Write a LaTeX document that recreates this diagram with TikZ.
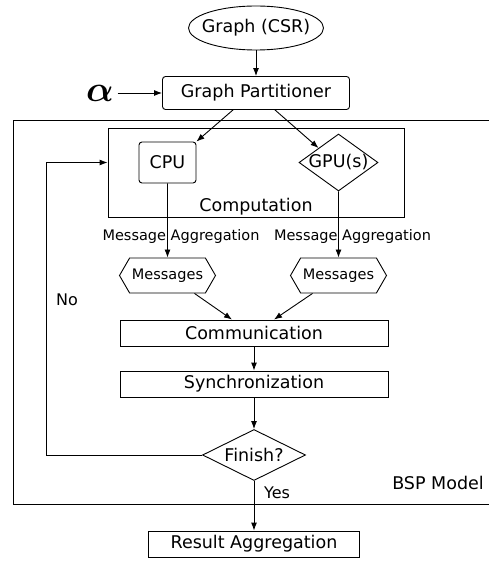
\documentclass[tikz,border=0pt]{standalone}
\usepackage{bm}
\usepackage{fontspec}
\setmainfont{DejaVu Sans}
\usetikzlibrary{positioning, arrows.meta, shapes.geometric, shapes.symbols}

\begin{document}
\begin{tikzpicture}[
        x=1pt, y=-1pt,
        >={Latex[length=8pt,width=6pt]},
        on grid,
        line width=0.9pt,
        font=\fontsize{17.5}{20}\selectfont,
        box/.style={draw, rectangle, inner sep=0pt},
        rbox/.style={box, rounded corners=3pt},
        ell/.style={draw, ellipse, inner xsep=-8pt, minimum width=135pt, minimum height=44pt},
        dmd/.style={draw, diamond, inner sep=0pt},
        msg/.style={draw, signal, signal to=west and east, signal pointer angle=120,
            minimum width=96pt, minimum height=35pt, inner sep=0pt, font=\fontsize{14.5}{16}\selectfont},
        small/.style={font=\fontsize{14.5}{16}\selectfont}
    ]
        \useasboundingbox (0,0) rectangle (488,561);

        \node[ell] (graph) at (256,28) {Graph (CSR)};
        \node[rbox, minimum width=187pt, minimum height=33pt, below=65pt of graph] (part) {Graph Partitioner};
        \node[left=156pt of part] (alpha) {\scalebox{2.1}{$\bm{\alpha}$}};

        \node[box, minimum width=487pt, minimum height=384pt] (bsp) at (256.5,312) {};
        \node (bsplbl) at (438,483) {BSP Model};

        \node[box, minimum width=296pt, minimum height=89pt, below=79.5pt of part] (comp) {};
        \node (complbl) at ([yshift=11pt]comp.south) {Computation};
        \node[rbox, minimum width=57pt, minimum height=41pt, below left=69.5pt and 88.5pt of part] (cpu) {CPU};
        \node[dmd, minimum width=79pt, minimum height=57pt, below right=69.5pt and 82.5pt of part] (gpu) {};
        \node (gpulbl) at (gpu) {GPU(s)};

        \node[small, below right=73.5pt and 13.5pt of cpu] (agg1) {Message Aggregation};
        \node[small, below right=73.5pt and 14pt of gpu] (agg2) {Message Aggregation};
        \node[msg, below=113pt of cpu] (msg1) {Messages};
        \node[msg, below=113pt of gpu] (msg2) {Messages};

        \node[box, minimum width=268pt, minimum height=26pt, below left=240pt and 2pt of part] (comm) {Communication};
        \node[box, minimum width=268pt, minimum height=26pt, below=51pt of comm] (sync) {Synchronization};
        \node[dmd, minimum width=103pt, minimum height=51pt, below=71pt of sync] (fin) {};
        \node (finlbl) at (fin) {Finish?};
        \node[box, minimum width=211pt, minimum height=26pt, below=89pt of fin] (res) {Result Aggregation};

        \coordinate[left=208pt of fin] (back);
        \node[font=\fontsize{16}{18}\selectfont] (no) at (67,300) {No};
        \node[font=\fontsize{16}{18}\selectfont, below right=38pt and 23pt of fin] (yes) {Yes};

\path[->]
        (graph) edge (part)
        (alpha) edge (part)
        ([xshift=-23pt]part.south) edge (cpu.north east)
        ([xshift=19pt]part.south) edge (gpu.north west)
        (cpu) edge (msg1)
        (gpu) edge (msg2)
        ([xshift=27pt]msg1.south) edge ([xshift=-22pt]comm.north)
        ([xshift=-26pt]msg2.south) edge ([xshift=20pt]comm.north)
        (comm) edge (sync)
        (sync) edge (fin)
        (fin) edge (res);
        \draw[->] (fin.west) -- (back) |- (comp.west |- cpu);
\end{tikzpicture}
\end{document}
